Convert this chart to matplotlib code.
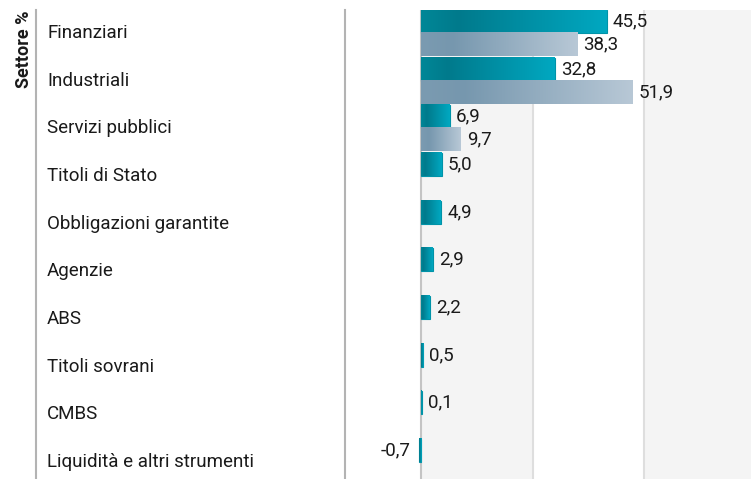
import numpy as np
import matplotlib
matplotlib.use('Agg')
import matplotlib.pyplot as plt
from matplotlib.colors import LinearSegmentedColormap
import matplotlib.transforms as mtransforms

plt.rcParams['font.family'] = ['Roboto', 'DejaVu Sans']

# data
sectors = ['Finanziari', 'Industriali', 'Servizi pubblici', 'Titoli di Stato',
           'Obbligazioni garantite', 'Agenzie', 'ABS', 'Titoli sovrani',
           'CMBS', 'Liquidità e altri strumenti']
fund = [45.5, 32.8, 6.9, 5.0, 4.9, 2.9, 2.2, 0.5, 0.1, -0.7]
benchmark = [38.3, 51.9, 9.7, None, None, None, None, None, None, None]
grid_step = 27.3

teal = LinearSegmentedColormap.from_list('teal', [(0, '#008797'), (0.2, '#007a8c'), (1, '#00a8c1')])
grey = LinearSegmentedColormap.from_list('grey', [(0, '#7b9bb1'), (0.2, '#7697ae'), (1, '#b8c8d6')])

W, H = 751, 479
fig = plt.figure(figsize=(W / 100, H / 100), dpi=100)
top = 10
ax = fig.add_axes([345 / W, 0, 406 / W, (H - top) / H])

xmin, xmax = -18.75, 80.9
ymin, ymax = -0.4825, 9.356
bh = 0.4825
fs = 13.5

y = np.arange(len(sectors))

# background bands and gridlines
for k in range(3):
    if k % 2 == 0:
        ax.axvspan(k * grid_step, (k + 1) * grid_step, color='#f4f4f4', zorder=0, lw=0)
    if k > 0:
        ax.axvline(k * grid_step, color='#dedede', lw=1.5, zorder=1)
ax.axvline(0, color='#c4c4c4', lw=1.5, zorder=1)

grad = np.linspace(0, 1, 256).reshape(1, -1)

fund_bars = ax.barh(y - bh / 2, fund, height=bh, color='#0093a8',
                    edgecolor='#0093a8', lw=0.8, zorder=2)
b_idx = [i for i, v in enumerate(benchmark) if v is not None]
b_vals = [benchmark[i] for i in b_idx]
bench_bars = ax.barh(y[b_idx] + bh / 2, b_vals, height=bh, color='none', zorder=2)

for bars, cmap, vals in [(fund_bars, teal, fund), (bench_bars, grey, b_vals)]:
    for bar, v in zip(bars, vals):
        x0, y0 = bar.get_x(), bar.get_y()
        w, h = bar.get_width(), bar.get_height()
        if w < 0:
            x0, w = x0 + w, -w
        ax.imshow(grad, cmap=cmap, extent=(x0, x0 + w, y0 + h, y0),
                  aspect='auto', zorder=3, interpolation='bilinear')
        yc = bar.get_y() + h / 2
        txt = f'{v:.1f}'.replace('.', ',')
        if v >= 0:
            ax.annotate(txt, (v, yc), xytext=(6, 0), textcoords='offset pixels',
                        ha='left', va='center', fontsize=fs, color='#1a1a1a', zorder=6)
        else:
            ax.annotate(txt, (v, yc), xytext=(-8, 0), textcoords='offset pixels',
                        ha='right', va='center', fontsize=fs, color='#1a1a1a', zorder=6)

ax.set_xlim(xmin, xmax)
ax.set_ylim(ymax, ymin)
ax.axis('off')

# category labels
trans = mtransforms.blended_transform_factory(fig.transFigure, ax.transData)
for i, s in enumerate(sectors):
    ax.text(47 / W, i, s, transform=trans, ha='left', va='center',
            fontsize=fs, color='#1a1a1a')

# separators
for xp in [36, 345]:
    fig.add_artist(plt.Line2D([xp / W, xp / W], [0, (H - top) / H],
                              color='#b3b3b3', lw=1.5, transform=fig.transFigure))

fig.text(24 / W, 1 - 11 / H, 'Settore %', rotation=90, ha='center', va='top',
         fontsize=13, fontweight='bold', color='#1a1a1a')

fig.savefig('out.png', dpi=100)
